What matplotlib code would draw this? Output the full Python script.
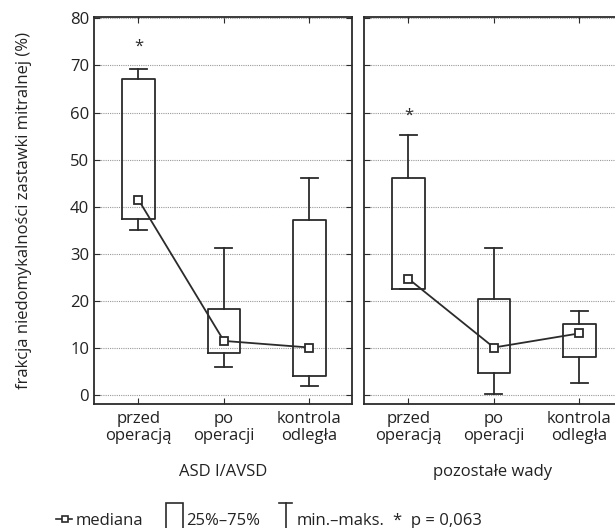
import matplotlib.pyplot as plt
from matplotlib.patches import Rectangle
from matplotlib.lines import Line2D

plt.rcParams['font.family'] = ['Open Sans', 'DejaVu Sans']

categories = ["przed\noperacją", "po\noperacji", "kontrola\nodległa"]
groups = ["ASD I/AVSD", "pozostałe wady"]

# per group: min, q1, median, q3, max for each category
mins = [[35, 6, 2], [22.5, 0.2, 2.6]]
q1s = [[37.4, 8.9, 4], [22.5, 4.7, 8.1]]
medians = [[41.5, 11.5, 10.1], [24.7, 10.1, 13.1]]
q3s = [[67.1, 18.2, 37.1], [46, 20.3, 15.1]]
maxs = [[69.2, 31.2, 46], [55.2, 31.2, 17.8]]
star_y = [73.9, 59.4]

ink = "#2b2b2b"
fig = plt.figure(figsize=(6.15, 5.28), dpi=100)
axes = [fig.add_axes([94 / 615, 124 / 528, 258 / 615, 387 / 528]),
        fig.add_axes([364 / 615, 124 / 528, 258 / 615, 387 / 528])]

for g, ax in enumerate(axes):
    stats = []
    for i in range(3):
        stats.append(dict(whislo=mins[g][i], q1=q1s[g][i], med=medians[g][i],
                          q3=q3s[g][i], whishi=maxs[g][i], fliers=[]))
    ax.bxp(stats, positions=range(3), widths=0.38, showfliers=False,
           boxprops=dict(color=ink, linewidth=1.3),
           whiskerprops=dict(color=ink, linewidth=1.3),
           capprops=dict(color=ink, linewidth=1.3),
           medianprops=dict(linewidth=0), capwidths=0.2)
    ax.plot(range(3), medians[g], color=ink, linewidth=1.3, marker="s",
            markersize=6, markerfacecolor="white", markeredgecolor=ink,
            markeredgewidth=1.3, zorder=5)
    ax.text(0, star_y[g], "*", ha="center", va="center", fontsize=12, color=ink)
    ax.set_xlim(-0.52, 2.5)
    ax.set_ylim(-1.9, 80.3)
    ax.set_yticks(range(0, 81, 10))
    ax.set_xticks(range(3))
    ax.set_xticklabels(categories, fontsize=12, color="#222222", linespacing=1.1)
    ax.yaxis.grid(True, linestyle=(0, (1, 1)), color="#999999", linewidth=0.8)
    ax.set_axisbelow(True)
    ax.tick_params(direction="in", top=True, right=True, length=4,
                   color=ink, labelsize=12, labelcolor="#222222")
    ax.tick_params(axis="x", pad=5)
    for s in ax.spines.values():
        s.set_color(ink)
        s.set_linewidth(1.3)
    ax.set_xlabel(groups[g], fontsize=12, color="#222222", labelpad=14)
    if g == 1:
        ax.tick_params(labelleft=False)

axes[0].set_ylabel("frakcja niedomykalności zastawki mitralnej (%)",
                   fontsize=12, color="#222222", labelpad=27)

# legend row
leg = fig.add_axes([0, 0, 1, 0.06])
leg.set_xlim(0, 615)
leg.set_ylim(0, 32)
leg.axis("off")
leg.add_line(Line2D([56, 72], [9, 9], color=ink, linewidth=1.2))
leg.plot([65], [9], marker="s", markersize=5, markerfacecolor="white",
         markeredgecolor=ink, markeredgewidth=1.2)
leg.text(76, 7, "mediana", fontsize=12, va="center", color="#222222")
leg.add_patch(Rectangle((166, -2), 17, 27, fill=False, edgecolor=ink,
                        linewidth=1.2, clip_on=False))
leg.text(186, 7, "25%–75%", fontsize=12, va="center", color="#222222")
leg.add_line(Line2D([279, 292], [25, 25], color=ink, linewidth=1.2))
leg.add_line(Line2D([285.5, 285.5], [25, 0], color=ink, linewidth=1.2))
leg.text(297, 7, "min.–maks.", fontsize=12, va="center", color="#222222")
leg.text(393, 7, "*  p = 0,063", fontsize=12, va="center", color="#222222")

fig.savefig("out.png", dpi=100)
